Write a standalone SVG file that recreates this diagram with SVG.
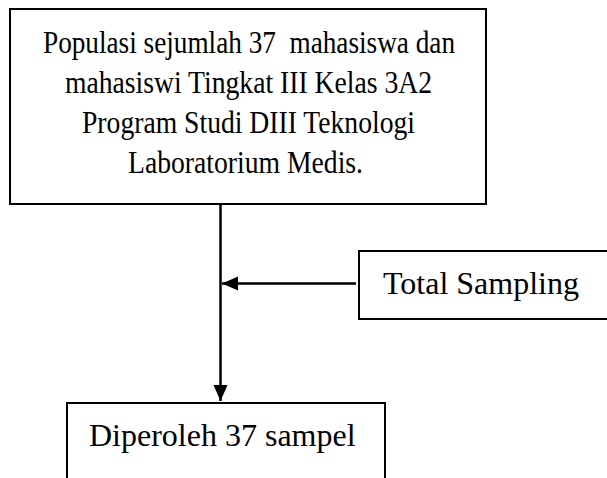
<svg xmlns="http://www.w3.org/2000/svg" width="607" height="478" viewBox="0 0 607 478">
<style>
.box{fill:#fff;stroke:#000;stroke-width:2}
.t{font-family:"Liberation Serif","Times New Roman",serif;font-size:32px;fill:#000;text-anchor:middle}
.t2{font-family:"Liberation Serif","Times New Roman",serif;font-size:32px;fill:#000}
.ln{stroke:#000;stroke-width:2.5;fill:none}
</style>
<defs>
<marker id="ah2" markerWidth="16" markerHeight="16" refX="16" refY="8" orient="auto" markerUnits="userSpaceOnUse" viewBox="0 0 16 16">
<path d="M0,1 L16,8 L0,15 Z" fill="#000"/>
</marker>
</defs>
<g id="populasi">
<rect class="box" x="10" y="9" width="476" height="195"/>
<text class="t" x="249" y="53" textLength="412" lengthAdjust="spacingAndGlyphs" xml:space="preserve">Populasi sejumlah 37  mahasiswa dan</text>
<text class="t" x="248.5" y="93" textLength="367" lengthAdjust="spacingAndGlyphs">mahasiswi Tingkat III Kelas 3A2</text>
<text class="t" x="248.5" y="133" textLength="333" lengthAdjust="spacingAndGlyphs">Program Studi DIII Teknologi</text>
<text class="t" x="245.5" y="173" textLength="235" lengthAdjust="spacingAndGlyphs">Laboratorium Medis.</text>
</g>
<g id="total-sampling">
<rect class="box" x="359" y="251" width="260" height="68"/>
<text class="t2" x="383" y="294">Total Sampling</text>
</g>
<g id="sampel">
<rect class="box" x="67" y="403" width="318" height="90"/>
<text class="t2" x="89" y="446">Diperoleh 37 sampel</text>
</g>
<g id="connectors">
<line class="ln" x1="220.5" y1="205" x2="220.5" y2="401" marker-end="url(#ah2)"/>
<line class="ln" x1="356" y1="283.5" x2="222" y2="283.5" marker-end="url(#ah2)"/>
</g>
</svg>
